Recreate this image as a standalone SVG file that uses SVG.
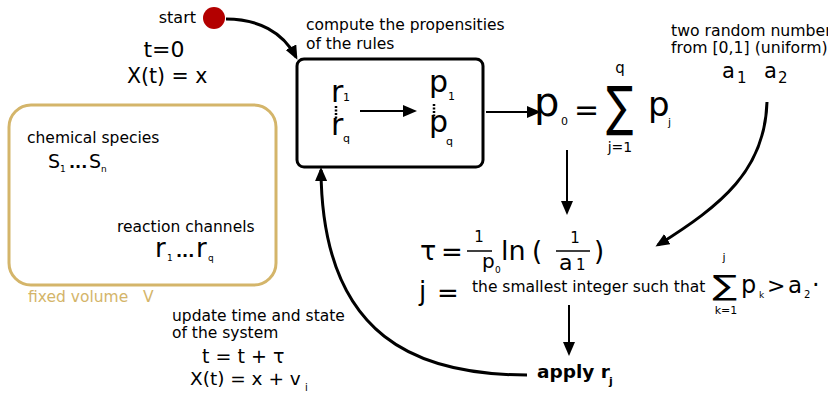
<svg xmlns="http://www.w3.org/2000/svg" width="828" height="400" viewBox="0 0 828 400">
<style>
text{font-family:"DejaVu Sans","Liberation Sans",sans-serif;fill:#000}
.lbl{font-size:15.5px}
.tan{fill:#d4b56a}
.edge{fill:none;stroke:#000;stroke-width:3}
.thin{fill:none;stroke:#000;stroke-width:2}
.frac{stroke:#000;stroke-width:1.5}
.b{font-weight:bold}
</style>
<defs>
<marker id="ah" viewBox="0 0 14 12" refX="11" refY="6" markerWidth="14" markerHeight="12" markerUnits="userSpaceOnUse" orient="auto">
<path d="M0,0 L14,6 L0,12 Z" fill="#000"/>
</marker>
</defs>
<rect width="828" height="400" fill="#fff"/>

<g id="connectors">
<path class="edge" d="M226,19 C258,19 283,32 296,57" marker-end="url(#ah)"/>
<path class="thin" d="M360,111 L414,111" marker-end="url(#ah)"/>
<path class="thin" d="M486,112 L538,112" marker-end="url(#ah)"/>
<path class="thin" d="M567,150 L567,212" marker-end="url(#ah)"/>
<path class="edge" d="M767,102 C765,170 722,205 658,245" marker-end="url(#ah)"/>
<path class="thin" d="M569,305 L569,353" marker-end="url(#ah)"/>
<path class="edge" d="M527,375 C420,375 322,340 321,170" marker-end="url(#ah)"/>
</g>

<g id="start">
<circle cx="214" cy="18" r="11" fill="#b30000"/>
<text x="196" y="23" font-size="16" text-anchor="end">start</text>
<text x="164" y="57" font-size="22" text-anchor="middle">t=0</text>
<text x="127" y="83" font-size="20.5">X(t) = x</text>
</g>

<g id="compute">
<text class="lbl" x="306" y="30">compute the propensities</text>
<text class="lbl" x="306" y="49">of the rules</text>
<rect x="297" y="59" width="186" height="108" rx="7" fill="none" stroke="#000" stroke-width="3"/>
<text x="331" y="102" font-size="30">r</text>
<text x="343" y="101" font-size="11">1</text>
<line x1="336" y1="106" x2="336" y2="119" stroke="#000" stroke-width="2.5" stroke-dasharray="2,1.5"/>
<text x="331" y="135" font-size="30">r</text>
<text x="343" y="142" font-size="11">q</text>
<text x="429" y="92" font-size="30">p</text>
<text x="448" y="100" font-size="11">1</text>
<line x1="434" y1="104" x2="434" y2="116" stroke="#000" stroke-width="2.5" stroke-dasharray="2,1.5"/>
<text x="429" y="132" font-size="30">p</text>
<text x="446" y="145" font-size="11">q</text>
</g>

<g id="p0sum">
<text x="534" y="116" font-size="40">p</text>
<text x="561" y="125" font-size="11">0</text>
<text x="574" y="120" font-size="30">=</text>
<text transform="translate(620,125) scale(0.75,1)" font-size="54" text-anchor="middle">∑</text>
<text x="620" y="73" font-size="15" text-anchor="middle">q</text>
<text x="620" y="152" font-size="14" text-anchor="middle">j=1</text>
<text x="648" y="116" font-size="34">p</text>
<text x="668" y="126" font-size="11">j</text>
</g>

<g id="random">
<text x="671" y="36" font-size="15.7">two random numbers</text>
<text x="671" y="53" font-size="15.7">from [0,1] (uniform)</text>
<text x="722" y="78" font-size="21">a</text>
<text x="737" y="83" font-size="15">1</text>
<text x="764" y="78" font-size="21">a</text>
<text x="778" y="83" font-size="15">2</text>
</g>

<g id="tau">
<text x="420" y="260" font-size="27">τ</text>
<text x="441" y="261" font-size="26">=</text>
<text x="479" y="242" font-size="15" text-anchor="middle">1</text>
<line class="frac" x1="467" y1="251" x2="492" y2="251"/>
<text x="482" y="268" font-size="20">p</text>
<text x="495" y="273" font-size="9">0</text>
<text x="501" y="260" font-size="27">ln</text>
<text x="532" y="260" font-size="26">(</text>
<text x="575" y="243" font-size="15" text-anchor="middle">1</text>
<line class="frac" x1="556" y1="251" x2="590" y2="251"/>
<text x="559" y="270" font-size="22">a</text>
<text x="576" y="270" font-size="15">1</text>
<text x="594" y="260" font-size="26">)</text>
<text x="419" y="300" font-size="26">j</text>
<text x="437" y="302" font-size="26">=</text>
<text class="lbl" x="472" y="292" font-size="15">the smallest integer such that</text>
<text transform="translate(725,295) scale(1.3,1)" font-size="28" text-anchor="middle">∑</text>
<text x="724" y="261" font-size="11" text-anchor="middle">j</text>
<text x="726" y="314" font-size="11" text-anchor="middle">k=1</text>
<text x="741" y="293" font-size="24">p</text>
<text x="759" y="298" font-size="9">k</text>
<text x="767" y="293" font-size="22">&gt;</text>
<text x="788" y="293" font-size="23">a</text>
<text x="804" y="298" font-size="10">2</text>
<text x="812" y="293" font-size="24">·</text>
</g>

<g id="apply">
<text class="b" x="537" y="378" font-size="18.5">apply r</text>
<text class="b" x="609" y="385" font-size="11">j</text>
</g>

<g id="update">
<text class="lbl" x="172" y="321">update time and state</text>
<text class="lbl" x="172" y="338">of the system</text>
<text x="202" y="363" font-size="19">t = t + τ</text>
<text x="190" y="385" font-size="18.5">X(t) = x + v</text>
<text x="305" y="391" font-size="10">i</text>
</g>

<g id="volume">
<rect x="9" y="105" width="267" height="180" rx="22" fill="none" stroke="#d4b56a" stroke-width="3"/>
<text class="lbl" x="27" y="143">chemical species</text>
<text x="48" y="168" font-size="19">S</text>
<text x="60" y="172" font-size="9">1</text>
<text class="b" x="69" y="168" font-size="16">...</text>
<text x="89" y="168" font-size="19">S</text>
<text x="101" y="172" font-size="9">n</text>
<text class="lbl" x="117" y="232">reaction channels</text>
<text x="155" y="257" font-size="26">r</text>
<text x="167" y="261" font-size="9">1</text>
<text class="b" x="176" y="257" font-size="16">...</text>
<text x="196" y="257" font-size="26">r</text>
<text x="208" y="261" font-size="9">q</text>
<text class="lbl tan" x="28" y="302">fixed volume</text>
<text class="lbl tan" x="143" y="302">V</text>
</g>
</svg>
